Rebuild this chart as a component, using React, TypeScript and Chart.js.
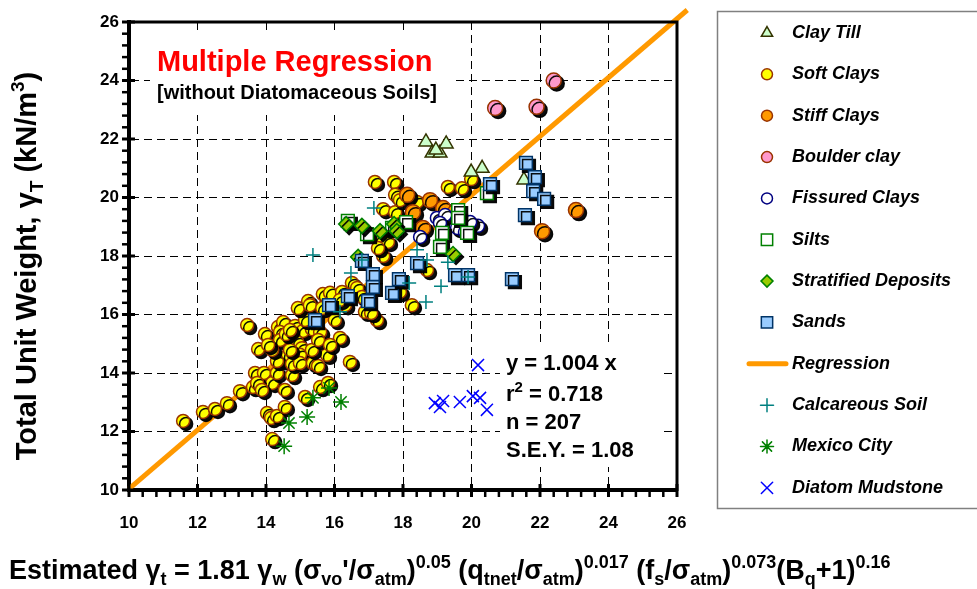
import React, { useEffect, useRef } from 'react';
import { Chart, registerables } from 'chart.js';
import { drawPoint } from 'chart.js/helpers';

Chart.register(...registerables);

const FONT = '"Liberation Sans", Arial, Helvetica, sans-serif';

// ---------------- data ----------------
const axisMin = 10;
const axisMax = 26;
const minorStep = 0.4;
const majorTicks = [10, 12, 14, 16, 18, 20, 22, 24, 26];

const clayTillX = [18.67, 18.85, 19.08, 19.26, 18.96, 20.31, 19.99, 21.53];
const clayTillY = [21.9, 21.52, 21.52, 21.83, 21.62, 21.0, 20.87, 20.6];

const softClaysX = [
  11.58, 12.16, 12.51, 12.86, 13.24, 13.62, 13.68, 13.94, 14.18, 14.32,
  14.5, 14.76, 14.03, 14.15, 14.32, 14.55, 14.18, 15.14, 15.58, 15.81,
  13.45, 13.97, 13.77, 14.35, 14.5, 14.41, 14.85, 15.08, 15.34, 14.91,
  15.05, 14.99, 14.64, 14.41, 14.32, 14.76, 14.99, 15.37, 15.52, 15.78,
  16.45, 15.23, 15.66, 15.87, 15.05, 15.34, 15.58, 16.22, 16.51, 16.66,
  16.89, 17.24, 17.42, 18.26, 16.8, 17.18, 17.74, 17.77, 17.42, 17.77,
  17.33, 17.56, 17.27, 18.7, 19.31, 19.72, 19.99, 18.41, 17.91, 14.18,
  14.7, 14.58, 15.14, 14.93, 15.28, 13.74, 13.88, 14.55, 15.34, 16.16,
  16.01, 15.64, 16.31, 17.07, 16.16, 14.06, 14.7, 15.52, 15.87, 17.91,
];
const softClaysY = [
  12.36, 12.67, 12.77, 12.97, 13.38, 13.52, 14.0, 14.0, 13.66, 14.0,
  14.44, 13.93, 12.63, 12.46, 12.53, 12.84, 11.74, 13.18, 13.52, 13.66,
  15.64, 15.33, 14.82, 15.57, 15.74, 15.4, 15.61, 15.44, 15.5, 15.06,
  14.85, 14.62, 14.62, 15.13, 14.41, 14.31, 14.34, 14.34, 14.24, 14.62,
  14.38, 16.46, 16.7, 16.74, 16.09, 15.88, 15.4, 16.77, 17.08, 16.91,
  16.09, 15.81, 18.0, 16.32, 16.6, 20.53, 20.53, 20.09, 19.6, 19.5,
  18.55, 18.48, 18.27, 17.52, 20.36, 20.32, 20.63, 19.85, 19.91, 14.79,
  14.79, 15.33, 15.81, 16.22, 16.32, 13.66, 13.42, 13.42, 14.79, 15.2,
  15.81, 16.22, 16.32, 16.05, 16.5, 14.96, 15.47, 15.13, 14.96, 16.77,
];

const stiffClaysX = [18.12, 18.79, 18.29, 19.17, 18.58, 19.52, 23.05, 22.06];
const stiffClaysY = [20.09, 19.91, 19.5, 19.64, 18.96, 19.5, 19.57, 18.85];

const boulderClayX = [20.69, 21.9, 22.4];
const boulderClayY = [23.06, 23.1, 24.0];

const fissuredClaysX = [18.99, 19.23, 19.08, 18.5, 19.58, 19.81, 20.19, 19.96];
const fissuredClaysY = [19.3, 19.4, 19.13, 18.65, 18.96, 18.82, 19.03, 19.16];

const siltsX = [16.39, 16.95, 17.68, 18.09, 19.14, 19.08, 19.61, 19.61, 19.87, 20.45];
const siltsY = [19.2, 18.75, 18.96, 19.16, 18.79, 18.31, 19.57, 19.3, 18.79, 20.15];

const stratifiedX = [16.34, 16.8, 17.33, 17.74, 17.82, 19.46, 16.69];
const stratifiedY = [19.09, 19.03, 18.85, 19.09, 18.85, 18.07, 17.97];

const sandsX = [
  15.43, 15.84, 16.39, 16.8, 17.12, 17.12, 16.98, 17.68, 17.88, 18.41,
  19.52, 19.9, 21.18, 21.59, 21.85, 21.8, 22.12, 21.56, 20.54,
];
const sandsY = [
  15.81, 16.32, 16.63, 17.83, 17.38, 16.94, 16.46, 16.74, 17.21, 17.76,
  17.35, 17.35, 17.21, 21.18, 20.7, 20.22, 19.95, 19.4, 20.46,
];

const regressionX = [10, 26.3];
const regressionY = [10.04, 26.41];

const calcareousX = [17.15, 15.37, 16.48, 16.8, 18.18, 18.67, 19.11, 18.41, 18.7, 19.31, 19.9, 16.16];
const calcareousY = [19.64, 18.03, 17.42, 17.86, 17.08, 16.43, 16.97, 18.21, 17.86, 17.79, 17.28, 16.09];

const mexicoCityX = [14.53, 14.67, 15.2, 15.37, 15.84, 16.19];
const mexicoCityY = [11.5, 12.29, 12.5, 13.15, 13.49, 13.01];

const diatomX = [20.19, 18.93, 19.08, 19.17, 19.66, 20.04, 20.25, 20.45];
const diatomY = [14.27, 12.97, 12.84, 13.04, 13.01, 13.21, 13.15, 12.74];

// ---------------- texts ----------------
type Seg = { t: string; s?: 'sub' | 'sup' };

const titleMain = 'Multiple Regression';
const titleSub = '[without Diatomaceous Soils]';

const statLines: Seg[][] = [
  [{ t: 'y = 1.004 x' }],
  [{ t: 'r' }, { t: '2', s: 'sup' }, { t: ' = 0.718' }],
  [{ t: 'n = 207' }],
  [{ t: 'S.E.Y. = 1.08' }],
];

const yTitle: Seg[] = [
  { t: 'Total Unit Weight, ' },
  { t: 'γ' },
  { t: 'T', s: 'sub' },
  { t: ' (kN/m' },
  { t: '3', s: 'sup' },
  { t: ')' },
];

const xTitle: Seg[] = [
  { t: 'Estimated ' }, { t: 'γ' }, { t: 't', s: 'sub' }, { t: ' = 1.81 ' },
  { t: 'γ' }, { t: 'w', s: 'sub' }, { t: ' (' }, { t: 'σ' }, { t: 'vo', s: 'sub' },
  { t: "'/" }, { t: 'σ' }, { t: 'atm', s: 'sub' }, { t: ')' }, { t: '0.05', s: 'sup' },
  { t: ' (' }, { t: 'q' }, { t: 'tnet', s: 'sub' }, { t: '/' }, { t: 'σ' },
  { t: 'atm', s: 'sub' }, { t: ')' }, { t: '0.017', s: 'sup' }, { t: ' (' },
  { t: 'f' }, { t: 's', s: 'sub' }, { t: '/' }, { t: 'σ' }, { t: 'atm', s: 'sub' },
  { t: ')' }, { t: '0.073', s: 'sup' }, { t: '(' }, { t: 'B' }, { t: 'q', s: 'sub' },
  { t: '+1)' }, { t: '0.16', s: 'sup' },
];

// ---------------- helpers ----------------
const isMajor = (v: number) => majorTicks.some((m) => Math.abs(m - v) < 1e-6);
const isInteriorMajor = (v: number) =>
  isMajor(v) && v > axisMin + 1e-6 && v < axisMax - 1e-6;

const pts = (xs: number[], ys: number[]) => xs.map((x, i) => ({ x, y: ys[i] }));

function drawRich(ctx: CanvasRenderingContext2D, segs: Seg[], x: number, y: number, size: number, measureOnly = false) {
  let cx = x;
  for (const sg of segs) {
    const fs = sg.s ? Math.round(size * 0.66) : size;
    ctx.font = `bold ${fs}px ${FONT}`;
    const dy = sg.s === 'sub' ? size * 0.24 : sg.s === 'sup' ? -size * 0.42 : 0;
    if (!measureOnly) ctx.fillText(sg.t, cx, y + dy);
    cx += ctx.measureText(sg.t).width;
  }
  return cx - x;
}

const shadowPlugin = {
  id: 'markerShadow',
  beforeDatasetDraw(chart: any, args: any) {
    const ds = chart.data.datasets[args.index];
    if (ds.shadow) {
      const ctx = chart.ctx;
      ctx.save();
      ctx.shadowColor = 'rgba(0,0,0,0.95)';
      ctx.shadowOffsetX = 3;
      ctx.shadowOffsetY = 3;
      ctx.shadowBlur = 0;
    }
  },
  afterDatasetDraw(chart: any, args: any) {
    const ds = chart.data.datasets[args.index];
    if (ds.shadow) chart.ctx.restore();
  },
};

const decorPlugin = {
  id: 'decor',
  beforeDatasetsDraw(chart: any) {
    const ctx = chart.ctx as CanvasRenderingContext2D;
    ctx.save();
    ctx.fillStyle = '#ffffff';
    ctx.fillRect(150, 35, 305, 80);
    ctx.fillRect(500, 343, 162, 124);
    ctx.restore();
  },
  afterDatasetsDraw(chart: any) {
    const ctx = chart.ctx as CanvasRenderingContext2D;
    const { left, right, top, bottom } = chart.chartArea;
    const xs = chart.scales.x;
    const ys = chart.scales.y;
    ctx.save();
    // frame top/right
    ctx.strokeStyle = '#000';
    ctx.lineWidth = 3;
    ctx.beginPath();
    ctx.moveTo(left, top);
    ctx.lineTo(right, top);
    ctx.lineTo(right, bottom + 1);
    ctx.stroke();
    // ticks
    ctx.lineCap = 'butt';
    for (const t of ys.ticks) {
      const p = ys.getPixelForValue(t.value);
      const maj = isMajor(t.value);
      ctx.lineWidth = maj ? 3 : 2.5;
      ctx.beginPath();
      ctx.moveTo(left - 7, p);
      ctx.lineTo(maj ? left + 6 : left, p);
      ctx.stroke();
    }
    for (const t of xs.ticks) {
      const p = xs.getPixelForValue(t.value);
      const maj = isMajor(t.value);
      ctx.lineWidth = maj ? 3 : 2.5;
      ctx.beginPath();
      ctx.moveTo(p, bottom + 7);
      ctx.lineTo(p, maj ? bottom - 6 : bottom);
      ctx.stroke();
    }
    // texts
    ctx.textBaseline = 'alphabetic';
    ctx.textAlign = 'left';
    ctx.fillStyle = '#ff0000';
    ctx.font = `bold 29px ${FONT}`;
    ctx.fillText(titleMain, 157, 71);
    ctx.fillStyle = '#000';
    ctx.font = `bold 20px ${FONT}`;
    ctx.fillText(titleSub, 157, 99);
    const statBase = [370, 401, 429, 457];
    statLines.forEach((segs, i) => drawRich(ctx, segs, 506, statBase[i], 22));
    ctx.restore();
  },
  afterDraw(chart: any) {
    const ctx = chart.ctx as CanvasRenderingContext2D;
    ctx.save();
    ctx.fillStyle = '#000';
    ctx.textBaseline = 'alphabetic';
    ctx.textAlign = 'left';
    // y title
    ctx.save();
    ctx.translate(36, 266);
    ctx.rotate(-Math.PI / 2);
    const w = drawRich(ctx, yTitle, 0, 0, 29, true);
    drawRich(ctx, yTitle, -w / 2, 0, 29);
    ctx.restore();
    // x title
    drawRich(ctx, xTitle, 9, 579, 27);

    // legend
    ctx.strokeStyle = '#808080';
    ctx.lineWidth = 1.5;
    ctx.strokeRect(717.5, 11.5, 300, 497);
    const datasets = chart.data.datasets;
    const y0 = 33;
    const step = 41.35;
    datasets.forEach((ds: any, i: number) => {
      const y = y0 + i * step;
      if (ds.isLine) {
        ctx.strokeStyle = ds.borderColor;
        ctx.lineWidth = 5;
        ctx.lineCap = 'round';
        ctx.beginPath();
        ctx.moveTo(749, y);
        ctx.lineTo(786, y);
        ctx.stroke();
      } else {
        ctx.fillStyle = ds.pointBackgroundColor || 'rgba(0,0,0,0)';
        ctx.strokeStyle = ds.pointBorderColor;
        ctx.lineWidth = ds.pointBorderWidth;
        drawPoint(ctx, { pointStyle: ds.pointStyle, radius: ds.legendRadius, rotation: 0, borderWidth: ds.pointBorderWidth } as any, 767, y);
      }
      ctx.fillStyle = '#000';
      ctx.font = `italic bold 18px ${FONT}`;
      ctx.textBaseline = 'middle';
      ctx.fillText(ds.label, 792, y);
    });
    ctx.restore();
  },
};

export default function App() {
  const ref = useRef<HTMLCanvasElement | null>(null);

  useEffect(() => {
    if (!ref.current) return;
    const tickFont = { family: FONT, size: 17, weight: 'bold' as const };
    const labelCb = (v: any) => {
      const n = Number(v);
      return isMajor(n) ? String(Math.round(n)) : '';
    };
    const gridColor = (c: any) => (c.tick && isInteriorMajor(c.tick.value) ? '#000000' : 'rgba(0,0,0,0)');

    const datasets: any[] = [
      {
        label: 'Clay Till', data: pts(clayTillX, clayTillY), pointStyle: 'triangle', pointRadius: 8,
        pointBackgroundColor: '#ccffcc', pointBorderColor: '#333300', pointBorderWidth: 1.5,
        order: 7, legendRadius: 6.5,
      },
      {
        label: 'Soft Clays', data: pts(softClaysX, softClaysY), pointStyle: 'circle', pointRadius: 6.5,
        pointBackgroundColor: '#ffff00', pointBorderColor: '#993300', pointBorderWidth: 1.5,
        order: 12, shadow: true, legendRadius: 5.5,
      },
      {
        label: 'Stiff Clays', data: pts(stiffClaysX, stiffClaysY), pointStyle: 'circle', pointRadius: 7.5,
        pointBackgroundColor: '#ff9900', pointBorderColor: '#993300', pointBorderWidth: 1.5,
        order: 10, shadow: true, legendRadius: 5.5,
      },
      {
        label: 'Boulder clay', data: pts(boulderClayX, boulderClayY), pointStyle: 'circle', pointRadius: 7.5,
        pointBackgroundColor: '#ff99cc', pointBorderColor: '#993300', pointBorderWidth: 1.5,
        order: 10, shadow: true, legendRadius: 5.5,
      },
      {
        label: 'Fissured Clays', data: pts(fissuredClaysX, fissuredClaysY), pointStyle: 'circle', pointRadius: 6.5,
        pointBackgroundColor: '#ffffff', pointBorderColor: '#000080', pointBorderWidth: 1.5,
        order: 9, shadow: true, legendRadius: 5.5,
      },
      {
        label: 'Silts', data: pts(siltsX, siltsY), pointStyle: 'rect', pointRadius: 9,
        pointBackgroundColor: '#ffffff', pointBorderColor: '#008000', pointBorderWidth: 1.5,
        order: 8, shadow: true, legendRadius: 8,
      },
      {
        label: 'Stratified Deposits', data: pts(stratifiedX, stratifiedY), pointStyle: 'rectRot', pointRadius: 7.5,
        pointBackgroundColor: '#99cc00', pointBorderColor: '#008000', pointBorderWidth: 1.5,
        order: 6, shadow: true, legendRadius: 6,
      },
      {
        label: 'Sands', data: pts(sandsX, sandsY), pointStyle: 'rect', pointRadius: 9,
        pointBackgroundColor: '#99ccff', pointBorderColor: '#003366', pointBorderWidth: 1.5,
        order: 5, shadow: true, legendRadius: 8,
      },
      {
        label: 'Regression', data: pts(regressionX, regressionY), showLine: true, pointRadius: 0,
        borderColor: '#ff9900', borderWidth: 5, borderCapStyle: 'butt', order: 13, clip: false, isLine: true,
      },
      {
        label: 'Calcareous Soil', data: pts(calcareousX, calcareousY), pointStyle: 'cross', pointRadius: 7,
        pointBackgroundColor: 'rgba(0,0,0,0)', pointBorderColor: '#008080', pointBorderWidth: 1.5,
        order: 3, legendRadius: 6.5,
      },
      {
        label: 'Mexico City', data: pts(mexicoCityX, mexicoCityY), pointStyle: 'star', pointRadius: 8,
        pointBackgroundColor: 'rgba(0,0,0,0)', pointBorderColor: '#008000', pointBorderWidth: 1.5,
        order: 2, legendRadius: 6.5,
      },
      {
        label: 'Diatom Mudstone', data: pts(diatomX, diatomY), pointStyle: 'crossRot', pointRadius: 8.5,
        pointBackgroundColor: 'rgba(0,0,0,0)', pointBorderColor: '#0000ff', pointBorderWidth: 1.5,
        order: 1, legendRadius: 8,
      },
    ];

    const chart = new Chart(ref.current, {
      type: 'scatter',
      data: { datasets },
      options: {
        responsive: false,
        animation: false,
        devicePixelRatio: 1,
        events: [],
        layout: { padding: { left: 0, top: 22, right: 300, bottom: 0 } },
        plugins: { legend: { display: false }, tooltip: { enabled: false } },
        scales: {
          x: {
            type: 'linear', min: axisMin, max: axisMax,
            afterFit: (s: any) => { s.height = 99; },
            ticks: {
              stepSize: minorStep, autoSkip: false, maxRotation: 0, minRotation: 0,
              padding: 23, color: '#000', font: tickFont, callback: labelCb,
            },
            grid: { drawTicks: false, color: gridColor, lineWidth: 1 },
            border: { display: true, color: '#000', width: 4, dash: [8, 5] },
          },
          y: {
            type: 'linear', min: axisMin, max: axisMax,
            afterFit: (s: any) => { s.width = 129; },
            ticks: {
              stepSize: minorStep, autoSkip: false,
              padding: 10, color: '#000', font: tickFont, callback: labelCb,
            },
            grid: { drawTicks: false, color: gridColor, lineWidth: 1 },
            border: { display: true, color: '#000', width: 4, dash: [8, 5] },
          },
        },
      } as any,
      plugins: [shadowPlugin, decorPlugin],
    });
    return () => chart.destroy();
  }, []);

  return (
    <div style={{ position: 'absolute', left: 0, top: 0, width: 977, height: 589, background: '#fff' }}>
      <canvas ref={ref} width={977} height={589} style={{ display: 'block' }} />
    </div>
  );
}
